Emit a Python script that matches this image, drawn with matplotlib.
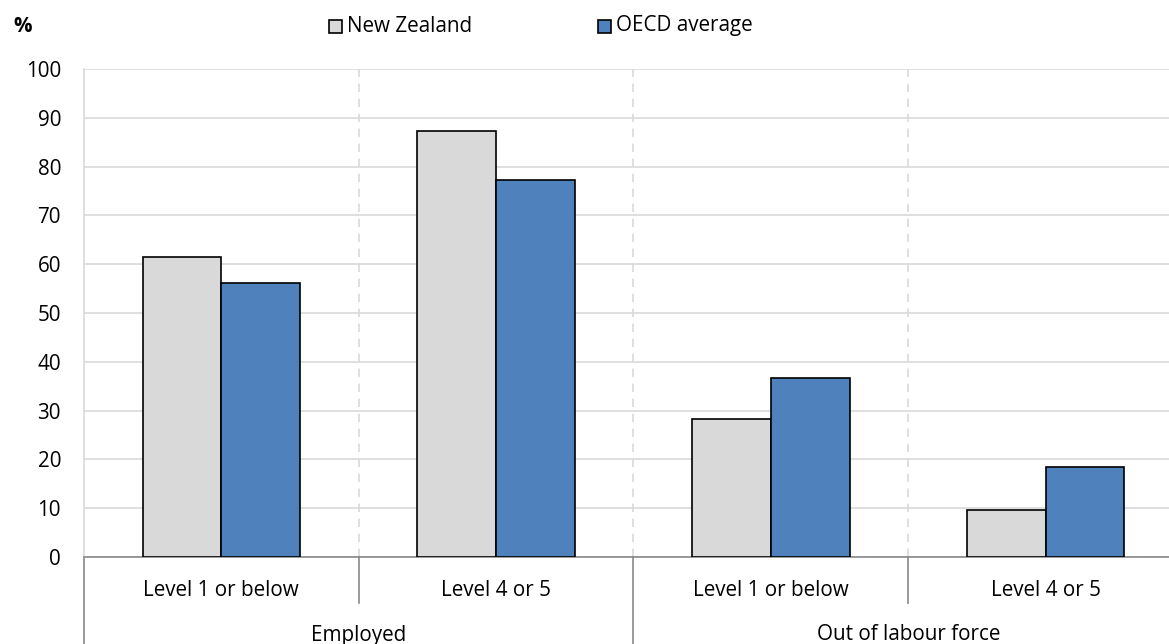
import matplotlib.pyplot as plt
from matplotlib.patches import Rectangle
import numpy as np

plt.rcParams['font.family'] = ['Open Sans', 'DejaVu Sans']

groups = ["Employed", "Out of labour force"]
levels = ["Level 1 or below", "Level 4 or 5", "Level 1 or below", "Level 4 or 5"]
series = ["New Zealand", "OECD average"]
nz = [61.5, 87.3, 28.3, 9.6]
oecd = [56.2, 77.2, 36.7, 18.5]
colors = ["#d9d9d9", "#4f81bd"]

W, H = 1169, 644
fs = 14.9
fig = plt.figure(figsize=(W / 100, H / 100), dpi=100)
ax = fig.add_axes([84 / W, 87 / H, (1183 - 84) / W, (557 - 69) / H])

x = np.arange(len(levels))
bw = 0.287
ax.bar(x - bw / 2, nz, bw, color=colors[0], edgecolor="black", linewidth=1.2, zorder=3)
ax.bar(x + bw / 2, oecd, bw, color=colors[1], edgecolor="black", linewidth=1.2, zorder=3)

ax.set_xlim(-0.5, len(levels) - 0.5)
ax.set_ylim(0, 100)
ax.set_yticks(range(0, 101, 10))
ax.yaxis.grid(True, color="#d9d9d9", linewidth=1.2)
ax.set_axisbelow(True)
for xv in [0.5, 1.5, 2.5]:
    ax.axvline(xv, color="#d9d9d9", linestyle=(0, (5, 4)), linewidth=1.2, zorder=1)

ax.tick_params(axis="y", length=0, pad=16.5, labelsize=fs, labelcolor="black")
ax.tick_params(axis="x", length=0, labelbottom=False)
for s in ["top", "right"]:
    ax.spines[s].set_visible(False)
ax.spines["left"].set_color("#d9d9d9")
ax.spines["left"].set_linewidth(1.2)
ax.spines["bottom"].set_color("#898989")
ax.spines["bottom"].set_linewidth(1.2)

# two-level category axis
trans = ax.get_xaxis_transform()
for i, lab in enumerate(levels):
    ax.text(x[i], -33 / 488, lab, transform=trans, ha="center", va="center", fontsize=fs)
for j, g in enumerate(groups):
    ax.text(2 * j + 0.5, -78 / 488, g, transform=trans, ha="center", va="center", fontsize=fs)
for xv in [-0.5, 1.5, 3.5]:
    ax.plot([xv, xv], [0, -0.18], transform=trans, color="#898989", linewidth=1.2, clip_on=False)
for xv in [0.5, 2.5]:
    ax.plot([xv, xv], [0, -46 / 488], transform=trans, color="#898989", linewidth=1.2, clip_on=False)

# legend and unit label
fig.text(13 / W, 1 - 27 / H, "%", fontsize=fs, fontweight="bold", va="center")
leg_x = [329, 598]
for lx, name, c in zip(leg_x, series, colors):
    fig.patches.append(Rectangle((lx / W, 1 - 33 / H), 13 / W, 13 / H, transform=fig.transFigure,
                                 facecolor=c, edgecolor="black", linewidth=1.2))
    fig.text((lx + 18) / W, 1 - 26 / H, name, fontsize=fs, va="center")

fig.savefig("out.png", dpi=100)
